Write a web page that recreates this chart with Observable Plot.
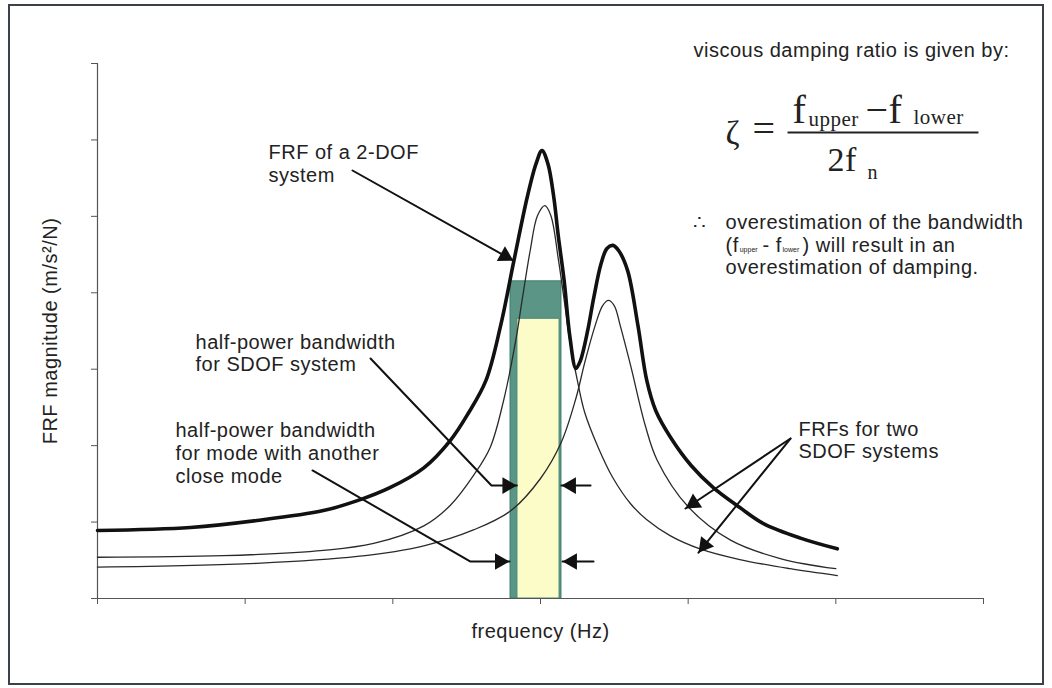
<!DOCTYPE html>
<html><head><meta charset="utf-8">
<script src="https://cdn.jsdelivr.net/npm/d3@7"></script>
<script src="https://cdn.jsdelivr.net/npm/@observablehq/plot@0.6"></script>
<style>
html,body{margin:0;padding:0;background:#fff;}
#wrap{position:relative;width:1052px;height:688px;overflow:hidden;}
#frame{position:absolute;left:8px;top:4px;width:1032px;height:677px;border:2px solid #3c4048;pointer-events:none;}
svg text{letter-spacing:0.5px;}
svg g[font-size="7"] text{letter-spacing:0;}
</style></head><body>
<div id="wrap"><div id="chart"></div><div id="frame"></div></div>
<script>
// ---- axes ----
const xTicks = [0, 1, 2, 3, 4, 5, 6];
const yTicks = [0, 1, 2, 3, 4, 5, 6, 7];
const xLabel = "frequency (Hz)";
const yLabel = "FRF magnitude (m/s²/N)";

// ---- FRF of a 2-DOF system (thick) ----
const dofFreq = [0, 0.63, 1.08, 1.53, 1.76, 1.98, 2.21, 2.39, 2.51, 2.63, 2.73, 2.82, 2.91, 2.97, 3.01, 3.05, 3.09, 3.12, 3.16, 3.20, 3.24, 3.27, 3.32, 3.36, 3.41, 3.45, 3.49, 3.53, 3.59, 3.66, 3.72, 3.78, 3.88, 4.02, 4.17, 4.35, 4.51, 4.76, 5.01];
const dofMag  = [0.89, 0.93, 1.02, 1.15, 1.28, 1.45, 1.71, 2.07, 2.42, 2.85, 3.57, 4.42, 5.25, 5.69, 5.86, 5.69, 5.25, 4.75, 4.16, 3.41, 3.01, 3.11, 3.51, 3.93, 4.38, 4.58, 4.62, 4.55, 4.29, 3.57, 2.85, 2.46, 2.11, 1.74, 1.45, 1.19, 0.98, 0.79, 0.65];

// ---- SDOF system 1 (thin, first mode) ----
const sdof1Freq = [0, 0.85, 1.53, 1.87, 2.21, 2.39, 2.55, 2.66, 2.75, 2.83, 2.88, 2.93, 2.98, 3.03, 3.07, 3.12, 3.16, 3.20, 3.25, 3.30, 3.39, 3.49, 3.61, 3.72, 3.88, 4.08, 4.35, 4.69, 5.01];
const sdof1Mag  = [0.54, 0.56, 0.63, 0.72, 0.95, 1.22, 1.62, 1.98, 2.59, 3.35, 3.96, 4.55, 5.01, 5.14, 5.01, 4.45, 3.91, 3.35, 2.85, 2.43, 1.98, 1.58, 1.24, 1.03, 0.82, 0.65, 0.51, 0.39, 0.30];

// ---- SDOF system 2 (thin, second mode) ----
const sdof2Freq = [0, 1.08, 1.76, 2.21, 2.55, 2.80, 3.00, 3.14, 3.24, 3.30, 3.37, 3.42, 3.46, 3.50, 3.54, 3.61, 3.71, 3.79, 4.00, 4.29, 4.63, 5.00];
const sdof2Mag  = [0.41, 0.46, 0.55, 0.69, 0.90, 1.15, 1.57, 2.04, 2.62, 3.09, 3.57, 3.83, 3.90, 3.83, 3.57, 3.05, 2.26, 1.81, 1.20, 0.76, 0.52, 0.39];

// ---- half-power bandwidths ----
const band2dof = [2.797, 3.142];  const level2dof = 4.15;
const bandSdof = [2.844, 3.129];  const levelSdof = 3.66;

// ---- arrows (polyline points; last point is the tip) ----
const arrowIds  = ["dof", "sdofL", "sdofR", "closeL", "closeR", "twoA", "twoB"];
const arrowFreq = [[1.727, 2.817], [1.849, 2.668, 2.84], [3.339, 3.142], [1.456, 2.526, 2.79], [3.359, 3.149], [4.693, 3.982], [4.693, 4.07]];
const arrowMag  = [[5.60, 4.42], [3.14, 1.478, 1.478], [1.478, 1.478], [1.675, 0.484, 0.484], [0.484, 0.484], [2.093, 1.178], [2.093, 0.60]];

// ---- annotation texts ----
const noteText = ["FRF of a 2-DOF", "system", "half-power bandwidth", "for SDOF system", "half-power bandwidth", "for mode with another", "close mode", "FRFs for two", "SDOF systems", "viscous damping ratio is given by:", "∴", "overestimation of the bandwidth", "(f", "- f", ") will result in an", "overestimation of damping."];
const noteFreq = [1.158, 1.158, 0.664, 0.664, 0.528, 0.528, 0.528, 4.747, 4.747, 4.036, 4.036, 4.253, 4.253, 4.503, 4.775, 4.253];
const noteMag  = [5.835, 5.534, 3.349, 3.062, 2.198, 1.897, 1.596, 2.211, 1.923, 7.170, 4.920, 4.920, 4.619, 4.619, 4.619, 4.331];
const subText = ["upper", "lower"];
const subFreq = [4.349, 4.639];
const subMag  = [4.560, 4.560];

// ---- formula ----
const formulaText = ["ζ", "=", "f", "upper", "−f", "lower", "2f", "n"];
const formulaFreq = [4.253, 4.436, 4.706, 4.815, 5.201, 5.526, 4.943, 5.214];
const formulaMag  = [6.084, 6.142, 6.395, 6.276, 6.395, 6.303, 5.742, 5.579];
const formulaSize = [34, 40, 40, 21, 40, 21, 34, 20];
const fractionBar = {f1: 4.673, f2: 5.966, m: 6.097};

// ---- build tables ----
const toRows = (fs, ms) => fs.map((f, i) => ({f, m: ms[i]}));
const dof = toRows(dofFreq, dofMag);
const sdof1 = toRows(sdof1Freq, sdof1Mag);
const sdof2 = toRows(sdof2Freq, sdof2Mag);
const arrowRows = arrowIds.flatMap((id, i) => arrowFreq[i].map((f, j) => ({id, f, m: arrowMag[i][j]})));
const notes = noteText.map((t, i) => ({t, f: noteFreq[i], m: noteMag[i]}));
const subs = subText.map((t, i) => ({t, f: subFreq[i], m: subMag[i]}));
const formula = formulaText.map((t, i) => ({t, f: formulaFreq[i], m: formulaMag[i], s: formulaSize[i]}));

const W = 1052, H = 688, ML = 97, MR = 69, MT = 63, MB = 90;
const kx = (W - ML - MR) / 6, ky = (H - MT - MB) / 7;
const HEAD_R = 6.2;
const halfY = Math.sqrt(Math.PI * HEAD_R * HEAD_R / (Math.sqrt(3) * 3));
function head(i) {
  const fs = arrowFreq[i], ms = arrowMag[i], n = fs.length;
  const a = Math.atan2(-(ms[n - 1] - ms[n - 2]) * ky, (fs[n - 1] - fs[n - 2]) * kx);
  return Plot.dot([{f: fs[n - 1], m: ms[n - 1]}], {
    x: "f", y: "m", symbol: "triangle", r: HEAD_R, fill: "#111", stroke: "none",
    rotate: a * 180 / Math.PI + 90,
    dx: -Math.cos(a) * 2 * halfY, dy: -Math.sin(a) * 2 * halfY
  });
}

const sans = "Liberation Sans, Arial, Helvetica, sans-serif";
const serif = "Liberation Serif, Times New Roman, serif";

const chart = Plot.plot({
  width: W, height: H,
  marginLeft: ML, marginRight: MR, marginTop: MT, marginBottom: MB,
  x: {domain: [0, 6]},
  y: {domain: [0, 7]},
  style: {background: "transparent"},
  marks: [
    Plot.rect([{}], {x1: band2dof[0], x2: band2dof[1], y1: 0, y2: level2dof, fill: "#5a9585", stroke: "#3e7d6e", strokeWidth: 1}),
    Plot.rect([{}], {x1: bandSdof[0], x2: bandSdof[1], y1: 0, y2: levelSdof, fill: "#fcfcc8", stroke: "#4a8a7a", strokeWidth: 1}),
    Plot.ruleY([0], {x1: 0, x2: 6, stroke: "#555", strokeWidth: 1.2}),
    Plot.ruleX([0], {y1: 0, y2: 7, stroke: "#555", strokeWidth: 1.2}),
    Plot.axisX(xTicks, {tickFormat: () => "", tickSize: 6, label: null, stroke: "#555"}),
    Plot.axisY(yTicks, {tickFormat: () => "", tickSize: 6, label: null, stroke: "#555"}),
    Plot.line(sdof1, {x: "f", y: "m", curve: "catmull-rom", stroke: "#2a2a2a", strokeWidth: 1.3}),
    Plot.line(sdof2, {x: "f", y: "m", curve: "catmull-rom", stroke: "#2a2a2a", strokeWidth: 1.3}),
    Plot.line(dof, {x: "f", y: "m", curve: "catmull-rom", stroke: "#111", strokeWidth: 3.6}),
    Plot.line(arrowRows, {x: "f", y: "m", z: "id", stroke: "#111", strokeWidth: 2}),
    ...arrowIds.map((_, i) => head(i)),
    Plot.text(notes, {x: "f", y: "m", text: "t", textAnchor: "start", fontSize: 20, fontFamily: sans, fill: "#222"}),
    Plot.text(subs, {x: "f", y: "m", text: "t", textAnchor: "start", fontSize: 7, fontFamily: sans, fill: "#222"}),
    Plot.text(formula, {x: "f", y: "m", text: "t", textAnchor: "start", fontSize: "s", fontFamily: serif, fill: "#222"}),
    Plot.link([fractionBar], {x1: "f1", x2: "f2", y1: "m", y2: "m", stroke: "#222", strokeWidth: 2}),
    Plot.text([xLabel], {frameAnchor: "bottom", dy: 39, textAnchor: "middle", fontSize: 20, fontFamily: sans, fill: "#222"}),
    Plot.text([yLabel], {frameAnchor: "left", dx: -47, rotate: -90, textAnchor: "middle", fontSize: 20, fontFamily: sans, fill: "#222"})
  ]
});
document.getElementById("chart").appendChild(chart);
</script>
</body></html>
